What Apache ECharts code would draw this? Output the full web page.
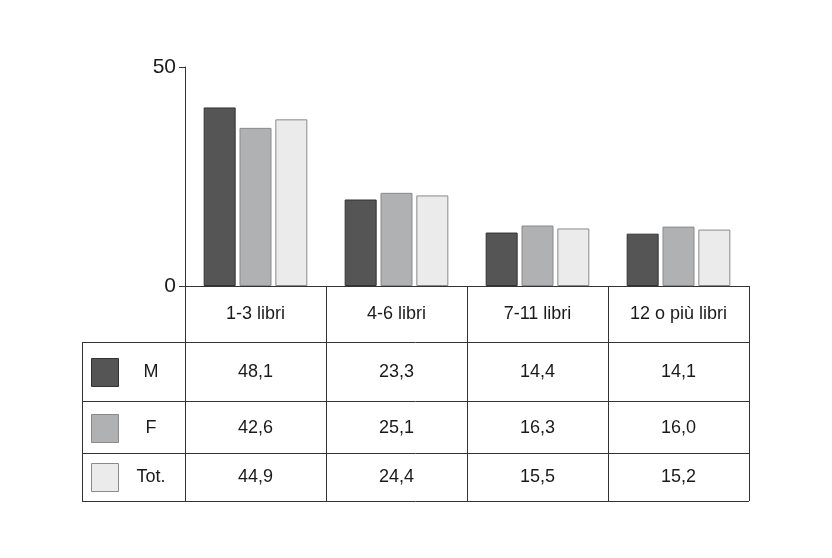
<!DOCTYPE html>
<html>
<head>
<meta charset="utf-8">
<script src="https://cdn.jsdelivr.net/npm/echarts@6/dist/echarts.min.js"></script>
<style>html,body{margin:0;padding:0;background:#fff}#c{width:832px;height:558px}</style>
</head>
<body>
<div id="c"></div>
<script>
const categories = ['1-3 libri', '4-6 libri', '7-11 libri', '12 o più libri'];
const seriesNames = ['M', 'F', 'Tot.'];
const valuesM = [48.1, 23.3, 14.4, 14.1];
const valuesF = [42.6, 25.1, 16.3, 16.0];
const valuesTot = [44.9, 24.4, 15.5, 15.2];
const yTickLabels = ['0', '50'];

const FONT = "'Liberation Sans', Arial, Helvetica, sans-serif";
const seriesValues = [valuesM, valuesF, valuesTot];
const fills = ['#555556', '#b0b1b2', '#eaebea'];
const borders = ['#333333', '#8a8a8a', '#8a8a8a'];
const LINE = '#333333';

const chart = echarts.init(document.getElementById('c'), null, {renderer: 'canvas'});

const option = {
  animation: false,
  backgroundColor: '#ffffff',
  grid: {left: 185, right: 83, top: 67, bottom: 272, containLabel: false},
  xAxis: {
    type: 'category',
    data: categories,
    boundaryGap: true,
    axisLine: {show: true, lineStyle: {color: LINE, width: 1}},
    axisTick: {show: true, interval: 0, length: 215, inside: false, alignWithLabel: false, lineStyle: {color: LINE, width: 1}},
    axisLabel: {interval: 0, margin: 19, fontSize: 18, color: '#1a1a1a', fontFamily: FONT},
    splitLine: {show: false}
  },
  yAxis: {
    type: 'value',
    min: 0,
    max: 59,
    interval: 59,
    axisLine: {show: true, lineStyle: {color: LINE, width: 1}},
    axisTick: {show: true, length: 6, lineStyle: {color: LINE, width: 1}},
    axisLabel: {
      margin: 9, fontSize: 21, color: '#1a1a1a', fontFamily: FONT,
      formatter: function (v) { return v === 0 ? yTickLabels[0] : yTickLabels[1]; }
    },
    splitLine: {show: false}
  },
  series: seriesNames.map(function (name, i) {
    return {
      name: name,
      type: 'bar',
      data: seriesValues[i],
      barWidth: 32,
      barGap: '12%',
      itemStyle: {color: fills[i], borderColor: borders[i], borderWidth: 1}
    };
  })
};
chart.setOption(option);

// Table below the chart
const rowLines = [342, 401, 453, 501];
const rowTextY = [372, 428, 477];
const tableLeft = 82;
const gridRight = 832 - 83;
const graphics = [];
rowLines.forEach(function (y) {
  graphics.push({type: 'line', shape: {x1: tableLeft, y1: y + 0.5, x2: gridRight, y2: y + 0.5}, style: {stroke: LINE, lineWidth: 1}, silent: true});
});
graphics.push({type: 'line', shape: {x1: tableLeft + 0.5, y1: rowLines[0], x2: tableLeft + 0.5, y2: rowLines[rowLines.length - 1]}, style: {stroke: LINE, lineWidth: 1}, silent: true});

seriesNames.forEach(function (name, i) {
  const cy = rowTextY[i];
  graphics.push({type: 'rect', shape: {x: 91.5, y: cy - 13.5, width: 27, height: 28}, style: {fill: fills[i], stroke: borders[i], lineWidth: 1}, silent: true});
  graphics.push({type: 'text', x: 151, y: cy, style: {text: name, fill: '#1a1a1a', font: '18px ' + FONT, textAlign: 'center', textVerticalAlign: 'middle'}, silent: true});
  seriesValues[i].forEach(function (v, j) {
    const p = chart.convertToPixel({gridIndex: 0}, [j, 0]);
    graphics.push({type: 'text', x: p[0], y: cy, style: {text: v.toFixed(1).replace('.', ','), fill: '#1a1a1a', font: '18px ' + FONT, textAlign: 'center', textVerticalAlign: 'middle'}, silent: true});
  });
});
chart.setOption({graphic: graphics});
</script>
</body>
</html>
